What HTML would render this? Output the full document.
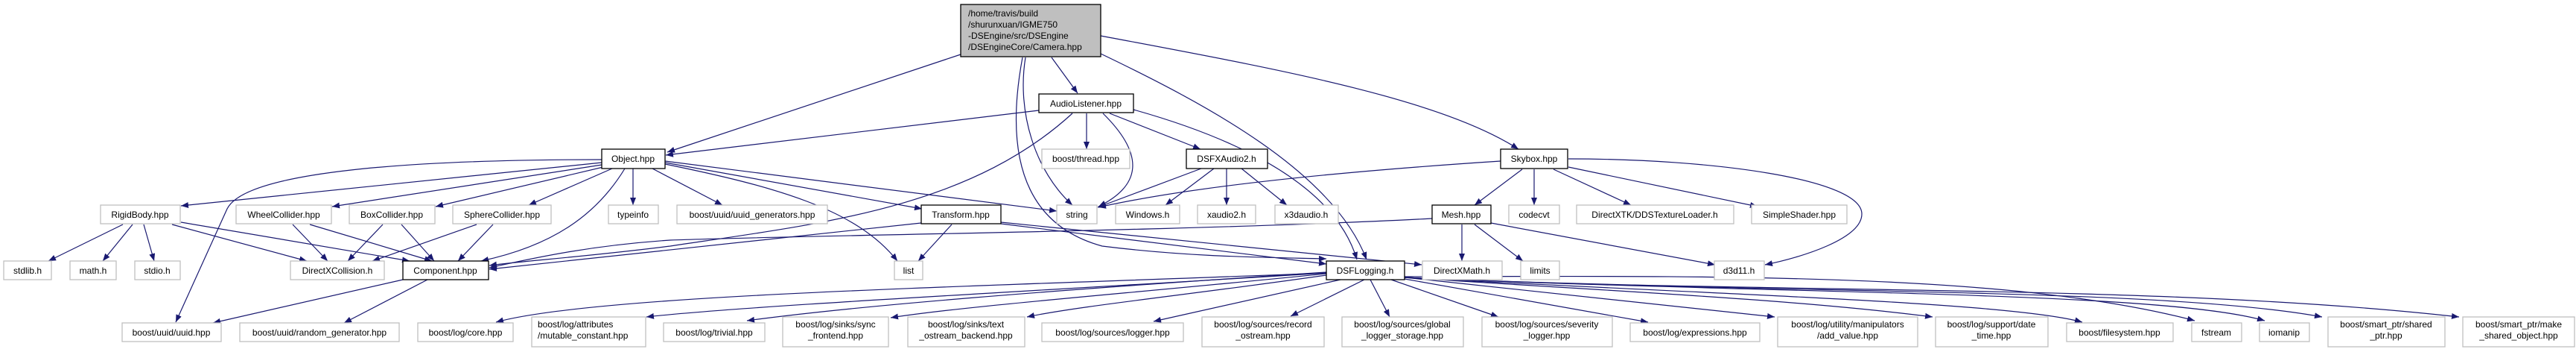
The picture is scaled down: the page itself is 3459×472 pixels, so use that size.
<!DOCTYPE html>
<html><head><meta charset="utf-8"><style>
html,body{margin:0;padding:0;background:#fff;}
svg{display:block;}
text{font-family:"Liberation Sans",Helvetica,sans-serif;font-size:12px;fill:#000;}
.g{fill:#fff;stroke:#bfbfbf;stroke-width:1.3;}
.b{fill:#fff;stroke:#000;stroke-width:1.3;}
.e{fill:none;stroke:#191970;stroke-width:1.2;marker-end:url(#a);}
</style></head><body>
<svg width="3459" height="472" viewBox="0 0 3459 472" xmlns="http://www.w3.org/2000/svg">
<defs><marker id="a" markerWidth="10" markerHeight="8" refX="10" refY="4" orient="auto" markerUnits="userSpaceOnUse"><path d="M0,0 L10,4 L0,8 z" fill="#191970"/></marker></defs>
<g>
<path class="e" d="M1290,73 L896,204"/>
<path class="e" d="M1412,77 L1447,125"/>
<path class="e" d="M1377,77 C1365,150 1390,230 1440,275"/>
<path class="e" d="M1373,77 C1350,200 1370,300 1480,330 C1600,345 1700,345 1781,347"/>
<path class="e" d="M1478,72 C1620,140 1790,230 1835,348"/>
<path class="e" d="M1478,48 C1700,90 1930,130 2039,200"/>
<path class="e" d="M1395,148 L894,208"/>
<path class="e" d="M1459,152 L1459,200"/>
<path class="e" d="M1481,152 C1540,210 1530,250 1475,277"/>
<path class="e" d="M1490,152 L1612,200"/>
<path class="e" d="M1440,152 C1300,280 1100,300 900,330 C780,345 700,350 657,356"/>
<path class="e" d="M1522,147 C1640,180 1790,240 1822,348"/>
<path class="e" d="M808,218 L243,276"/>
<path class="e" d="M808,221 L446,277"/>
<path class="e" d="M810,224 L585,277"/>
<path class="e" d="M822,226 L710,275"/>
<path class="e" d="M850,226 L850,275"/>
<path class="e" d="M839,226 C800,290 740,330 646,350"/>
<path class="e" d="M808,214 C550,214 330,230 305,280 L236,432"/>
<path class="e" d="M876,226 L970,275"/>
<path class="e" d="M893,218 L1238,280"/>
<path class="e" d="M893,216 L1419,283"/>
<path class="e" d="M893,220 C1040,250 1150,280 1205,350"/>
<path class="e" d="M1278,301 L1233,350"/>
<path class="e" d="M1344,298 L1909,355"/>
<path class="e" d="M1344,300 L1781,354"/>
<path class="e" d="M1237,299 L657,361"/>
<path class="e" d="M1923,293 C1600,310 1100,315 900,322 C780,330 700,350 657,359"/>
<path class="e" d="M1963,301 L1963,350"/>
<path class="e" d="M1980,301 L2045,350"/>
<path class="e" d="M2002,299 L2303,355"/>
<path class="e" d="M541,375 L286,433"/>
<path class="e" d="M574,375 L462,433"/>
<path class="e" d="M165,301 L65,350"/>
<path class="e" d="M178,301 L138,350"/>
<path class="e" d="M193,301 L207,350"/>
<path class="e" d="M231,301 L412,350"/>
<path class="e" d="M243,298 L550,350"/>
<path class="e" d="M393,301 L440,350"/>
<path class="e" d="M416,301 L580,350"/>
<path class="e" d="M514,301 L467,350"/>
<path class="e" d="M539,301 L583,350"/>
<path class="e" d="M640,301 L500,350"/>
<path class="e" d="M662,301 L615,350"/>
<path class="e" d="M1613,226 L1474,278"/>
<path class="e" d="M1630,226 L1565,275"/>
<path class="e" d="M1647,226 L1647,275"/>
<path class="e" d="M1667,226 L1728,275"/>
<path class="e" d="M2015,216 C1800,230 1600,250 1475,278"/>
<path class="e" d="M2044,227 L1980,275"/>
<path class="e" d="M2060,227 L2060,275"/>
<path class="e" d="M2086,227 L2190,275"/>
<path class="e" d="M2106,224 L2360,277"/>
<path class="e" d="M2106,213 C2300,213 2500,240 2500,287 C2500,320 2420,345 2370,355"/>
<path class="e" d="M1781,366 C1300,385 800,395 666,432"/>
<path class="e" d="M1781,366 C1400,390 1000,410 868,425"/>
<path class="e" d="M1781,365 C1400,390 1150,410 1003,430"/>
<path class="e" d="M1781,367 C1500,395 1300,410 1196,426"/>
<path class="e" d="M1781,369 C1600,395 1450,410 1379,425"/>
<path class="e" d="M1800,375 L1549,431"/>
<path class="e" d="M1832,375 L1733,424"/>
<path class="e" d="M1840,375 L1866,425"/>
<path class="e" d="M1868,375 L2012,425"/>
<path class="e" d="M1886,374 L2213,432"/>
<path class="e" d="M1886,372 C2100,395 2250,410 2383,425"/>
<path class="e" d="M1886,372 C2150,390 2400,400 2595,425"/>
<path class="e" d="M1886,372 C2300,395 2700,405 2796,432"/>
<path class="e" d="M1886,371 C2300,370 2700,365 2947,430"/>
<path class="e" d="M1886,372 C2400,395 2900,390 3041,430"/>
<path class="e" d="M1886,372 C2400,395 2900,385 3118,425"/>
<path class="e" d="M1886,372 C2400,395 2900,380 3302,425"/>
</g>
<g>
<rect x="1290" y="6" width="188" height="70" fill="#bfbfbf" stroke="#000" stroke-width="1.3"/>
<text x="1300" y="22">/home/travis/build</text>
<text x="1300" y="37">/shurunxuan/IGME750</text>
<text x="1300" y="52">-DSEngine/src/DSEngine</text>
<text x="1300" y="67">/DSEngineCore/Camera.hpp</text>

<g text-anchor="middle">
<rect class="b" x="1395" y="126" width="127" height="25"/><text x="1458" y="143">AudioListener.hpp</text>

<rect class="b" x="808" y="200" width="85" height="26"/><text x="850" y="217">Object.hpp</text>
<rect class="g" x="1399" y="200" width="118" height="26"/><text x="1458" y="217">boost/thread.hpp</text>
<rect class="b" x="1593" y="200" width="109" height="26"/><text x="1647" y="217">DSFXAudio2.h</text>
<rect class="b" x="2015" y="200" width="90" height="26"/><text x="2060" y="217">Skybox.hpp</text>

<rect class="g" x="135" y="275" width="107" height="25"/><text x="188" y="292">RigidBody.hpp</text>
<rect class="g" x="317" y="275" width="128" height="25"/><text x="381" y="292">WheelCollider.hpp</text>
<rect class="g" x="469" y="275" width="115" height="25"/><text x="526" y="292">BoxCollider.hpp</text>
<rect class="g" x="608" y="275" width="132" height="25"/><text x="674" y="292">SphereCollider.hpp</text>
<rect class="g" x="817" y="275" width="67" height="25"/><text x="850" y="292">typeinfo</text>
<rect class="g" x="909" y="275" width="202" height="25"/><text x="1010" y="292">boost/uuid/uuid_generators.hpp</text>
<rect class="b" x="1237" y="275" width="107" height="25"/><text x="1290" y="292">Transform.hpp</text>
<rect class="g" x="1419" y="275" width="54" height="25"/><text x="1446" y="292">string</text>
<rect class="g" x="1498" y="275" width="86" height="25"/><text x="1541" y="292">Windows.h</text>
<rect class="g" x="1608" y="275" width="78" height="25"/><text x="1647" y="292">xaudio2.h</text>
<rect class="g" x="1712" y="275" width="85" height="25"/><text x="1754" y="292">x3daudio.h</text>
<rect class="b" x="1923" y="275" width="79" height="25"/><text x="1962" y="292">Mesh.hpp</text>
<rect class="g" x="2026" y="275" width="68" height="25"/><text x="2060" y="292">codecvt</text>
<rect class="g" x="2117" y="275" width="211" height="25"/><text x="2222" y="292">DirectXTK/DDSTextureLoader.h</text>
<rect class="g" x="2352" y="275" width="128" height="25"/><text x="2416" y="292">SimpleShader.hpp</text>

<rect class="g" x="5" y="350" width="64" height="25"/><text x="37" y="367">stdlib.h</text>
<rect class="g" x="94" y="350" width="62" height="25"/><text x="125" y="367">math.h</text>
<rect class="g" x="181" y="350" width="61" height="25"/><text x="211" y="367">stdio.h</text>
<rect class="g" x="390" y="350" width="126" height="25"/><text x="453" y="367">DirectXCollision.h</text>
<rect class="b" x="541" y="350" width="115" height="25"/><text x="598" y="367">Component.hpp</text>
<rect class="g" x="1201" y="350" width="38" height="25"/><text x="1220" y="367">list</text>
<rect class="b" x="1781" y="350" width="105" height="25"/><text x="1833" y="367">DSFLogging.h</text>
<rect class="g" x="1910" y="350" width="107" height="25"/><text x="1963" y="367">DirectXMath.h</text>
<rect class="g" x="2042" y="350" width="52" height="25"/><text x="2068" y="367">limits</text>
<rect class="g" x="2302" y="350" width="67" height="25"/><text x="2335" y="367">d3d11.h</text>

<rect class="g" x="164" y="433" width="133" height="25"/><text x="230" y="450">boost/uuid/uuid.hpp</text>
<rect class="g" x="322" y="433" width="214" height="25"/><text x="429" y="450">boost/uuid/random_generator.hpp</text>
<rect class="g" x="561" y="433" width="128" height="25"/><text x="625" y="450">boost/log/core.hpp</text>
<rect class="g" x="891" y="433" width="136" height="25"/><text x="959" y="450">boost/log/trivial.hpp</text>
<rect class="g" x="1051" y="425" width="142" height="40"/><text x="1122" y="439">boost/log/sinks/sync</text><text x="1122" y="454">_frontend.hpp</text>
<rect class="g" x="1219" y="425" width="157" height="40"/><text x="1297" y="439">boost/log/sinks/text</text><text x="1297" y="454">_ostream_backend.hpp</text>
<rect class="g" x="1399" y="433" width="190" height="25"/><text x="1494" y="450">boost/log/sources/logger.hpp</text>
<rect class="g" x="1614" y="425" width="164" height="40"/><text x="1696" y="439">boost/log/sources/record</text><text x="1696" y="454">_ostream.hpp</text>
<rect class="g" x="1802" y="425" width="163" height="40"/><text x="1883" y="439">boost/log/sources/global</text><text x="1883" y="454">_logger_storage.hpp</text>
<rect class="g" x="1990" y="425" width="175" height="40"/><text x="2077" y="439">boost/log/sources/severity</text><text x="2077" y="454">_logger.hpp</text>
<rect class="g" x="2189" y="433" width="174" height="25"/><text x="2276" y="450">boost/log/expressions.hpp</text>
<rect class="g" x="2387" y="425" width="188" height="40"/><text x="2481" y="439">boost/log/utility/manipulators</text><text x="2481" y="454">/add_value.hpp</text>
<rect class="g" x="2599" y="425" width="151" height="40"/><text x="2674" y="439">boost/log/support/date</text><text x="2674" y="454">_time.hpp</text>
<rect class="g" x="2775" y="433" width="143" height="25"/><text x="2846" y="450">boost/filesystem.hpp</text>
<rect class="g" x="2943" y="433" width="67" height="25"/><text x="2976" y="450">fstream</text>
<rect class="g" x="3034" y="433" width="67" height="25"/><text x="3067" y="450">iomanip</text>
<rect class="g" x="3126" y="425" width="157" height="40"/><text x="3204" y="439">boost/smart_ptr/shared</text><text x="3204" y="454">_ptr.hpp</text>
<rect class="g" x="3307" y="425" width="150" height="40"/><text x="3382" y="439">boost/smart_ptr/make</text><text x="3382" y="454">_shared_object.hpp</text>
</g>
<rect class="g" x="714" y="425" width="153" height="40"/>
<text x="722" y="439">boost/log/attributes</text><text x="722" y="454">/mutable_constant.hpp</text>
</g>
</svg>
</body></html>
